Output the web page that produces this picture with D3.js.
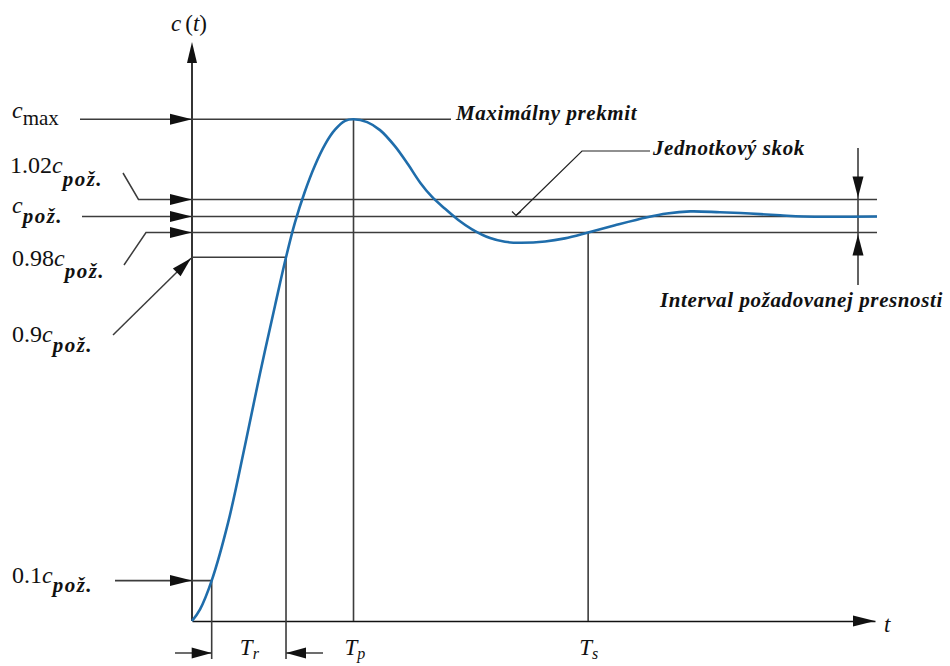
<!DOCTYPE html>
<html>
<head>
<meta charset="utf-8">
<script src="https://cdn.jsdelivr.net/npm/d3@7"></script>
<style>
  body { margin: 0; background: #fff; }
</style>
</head>
<body>
<script>
// Step response c(t) of an under-damped system
const timeS = [0, 0.2, 0.49, 0.9, 1.32, 1.69, 2.07, 2.34,
  2.56, 2.81, 3.06, 3.31, 3.56, 3.81, 4.02,
  4.36, 4.68, 5.05, 5.38, 5.68, 5.97, 6.3, 6.62, 6.97, 7.42, 7.79, 8.16,
  8.79, 9.28, 9.86,
  10.53, 11.33, 11.82, 12.4, 13.14, 13.89, 14.64, 15.21, 17.05];
const response = [0, 0.029, 0.1, 0.244, 0.435, 0.611, 0.782, 0.9,
  0.992, 1.04, 1.105, 1.157, 1.194, 1.216, 1.22,
  1.213, 1.193, 1.153, 1.107, 1.062, 1.027, 1.009, 0.996, 0.984, 0.962, 0.95, 0.947,
  0.951, 0.961, 0.98,
  0.989, 0.999, 1.0035, 1.006, 1.005, 1.0035, 1.0014, 1.0, 1.0];

// Characteristic levels (multiples of the required value c_pož.)
const cMax = 1.22;
const tolUpper = 1.02;
const setpoint = 1.0;
const tolLower = 0.98;
const rise90 = 0.9;
const rise10 = 0.1;

// Characteristic times: 10 % crossing, 90 % crossing (T_r), peak (T_p), settling (T_s)
const markTimes = [0.49, 2.34, 4.02, 9.86];
const markSubs = ["r", "p", "s"];

const notes = ["Maximálny prekmit", "Jednotkový skok", "Interval požadovanej presnosti"];

const SERIF = "'Liberation Serif', Tinos, 'Times New Roman', 'DejaVu Serif', 'Noto Serif', serif";

const W = 950, H = 666;
const svg = d3.select("body").append("svg").attr("width", W).attr("height", H)
  .style("font-family", SERIF);

const x = d3.scaleLinear().domain([0, 17]).range([192, 875]);
// schematic value scale: the ±2 % band around the set point is drawn magnified
const y = d3.scaleLinear()
  .domain([0, rise90, tolLower, setpoint, tolUpper, cMax])
  .range([621, 257.3, 232.5, 216.5, 199.5, 119.3]);

const ink = "#111", grey = "#3c3c3c";

function seg(x1, y1, x2, y2, w = 1.6, c = grey) {
  svg.append("line").attr("x1", x1).attr("y1", y1).attr("x2", x2).attr("y2", y2)
    .attr("stroke", c).attr("stroke-width", w);
}
function poly(pts, w = 1.5, c = grey) {
  svg.append("path").attr("d", d3.line()(pts)).attr("fill", "none")
    .attr("stroke", c).attr("stroke-width", w);
}
// solid arrow head with its tip at (xt, yt), pointing away from (xf, yf)
function head(xt, yt, xf, yf, len = 22, hw = 5.5) {
  const a = Math.atan2(yt - yf, xt - xf);
  const bx = xt - len * Math.cos(a), by = yt - len * Math.sin(a);
  const px = -Math.sin(a) * hw, py = Math.cos(a) * hw;
  svg.append("path")
    .attr("d", `M${xt},${yt}L${bx + px},${by + py}L${bx - px},${by - py}Z`)
    .attr("fill", ink);
}
function txt(xp, yp, size) {
  return svg.append("text").attr("x", xp).attr("y", yp)
    .style("font-family", SERIF).style("font-size", size + "px").attr("fill", "#111");
}

const x0 = x(0), y0 = y(0);

// axes
svg.append("g").attr("transform", `translate(0,${y0})`)
  .call(d3.axisBottom(x).tickValues([]).tickSizeOuter(0))
  .call(g => g.select(".domain").attr("stroke", ink).attr("stroke-width", 1.7));
head(x(17), y0, x(16), y0, 22, 5.5);
seg(x0, y0, x0, 60, 1.7, ink);
head(x0, 42, x0, 100, 21, 5);

// level lines
const xEndBand = 877;
seg(80, y(cMax), 451, y(cMax));
head(x0, y(cMax), 80, y(cMax));

seg(x0, y(tolUpper), xEndBand, y(tolUpper));
poly([[123, 173], [138.5, y(tolUpper)], [x0, y(tolUpper)]]);
head(x0, y(tolUpper), 138, y(tolUpper));

seg(82, y(setpoint), xEndBand, y(setpoint));
head(x0, y(setpoint), 82, y(setpoint));

seg(x0, y(tolLower), xEndBand, y(tolLower));
poly([[124, 265], [146, y(tolLower)], [x0, y(tolLower)]]);
head(x0, y(tolLower), 146, y(tolLower));

seg(x0, y(rise90), x(markTimes[1]), y(rise90));
seg(113, 335, x0 - 1, y(rise90) + 1, 1.5);
head(x0 - 1, y(rise90) + 1, 113, 335, 20, 5.5);

seg(115, y(rise10), x(markTimes[0]), y(rise10));
head(x0, y(rise10), 115, y(rise10));

// vertical markers
seg(x(markTimes[0]), y(rise10), x(markTimes[0]), 659);
seg(x(markTimes[1]), y(rise90), x(markTimes[1]), 659);
seg(x(markTimes[2]), y(cMax), x(markTimes[2]), y0);
seg(x(markTimes[3]), y(tolLower), x(markTimes[3]), y0);

// rise-time arrows below the axis
seg(175, 653, x(markTimes[0]), 653);
head(x(markTimes[0]), 653, 175, 653, 20, 5.5);
seg(323, 653, x(markTimes[1]), 653);
head(x(markTimes[1]), 653, 323, 653, 20, 5.5);

// tolerance band marker on the right
const xb = 858;
seg(xb, 148, xb, 285);
head(xb, y(tolUpper) - 2, xb, 150, 21, 5.5);
head(xb, y(tolLower) + 2, xb, 285, 21, 5.5);

// leader to the unit step line
poly([[650, 151], [582, 151], [516, y(setpoint) - 1]], 1.2, "#222");
poly([[512, y(setpoint) - 5], [516, y(setpoint) - 1], [521, y(setpoint) - 5]], 1.2, "#222");

// response curve
const pts = timeS.map((t, i) => [t, response[i]]);
svg.append("path")
  .attr("d", d3.line().x(d => x(d[0])).y(d => y(d[1])).curve(d3.curveCatmullRom.alpha(0.5))(pts))
  .attr("fill", "none").attr("stroke", "#1f6dab").attr("stroke-width", 2.6);

// axis labels
const ct = txt(171, 31, 23).style("font-style", "italic");
ct.append("tspan").text("c");
ct.append("tspan").attr("dx", 4).style("font-style", "normal").text("(");
ct.append("tspan").text("t");
ct.append("tspan").style("font-style", "normal").text(")");
txt(884, 632, 23).style("font-style", "italic").text("t");

// level labels
function levelLabel(xp, yb, coef, sub, subDy, subBold = true) {
  const t = txt(xp, yb, 24);
  if (coef) t.append("tspan").text(coef);
  t.append("tspan").style("font-style", "italic").text("c");
  const s = t.append("tspan").attr("dy", subDy).style("font-size", "21px");
  if (subBold) s.style("font-style", "italic").style("font-weight", "bold").style("letter-spacing", "1.5px");
  s.text(sub);
}
levelLabel(12, 118, "", "max", 7, false);
levelLabel(10, 173, "1.02", "pož.", 13);
levelLabel(12, 213, "", "pož.", 10);
levelLabel(12, 266, "0.98", "pož.", 12);
levelLabel(12, 342, "0.9", "pož.", 10);
levelLabel(12, 583, "0.1", "pož.", 9);

// time labels
[markTimes.slice(0, 2).reduce((a, b) => a + b) / 2, markTimes[2], markTimes[3]].forEach((t, i) => {
  const lb = txt(x(t) - 9, 655, 23).style("font-style", "italic");
  lb.append("tspan").text("T");
  lb.append("tspan").attr("dy", 4).style("font-size", "16px").text(markSubs[i]);
});

// annotations
const noteStyle = s => s.style("font-style", "italic").style("font-weight", "bold")
  .style("letter-spacing", "0.6px");
txt(456, 120, 21).call(noteStyle).text(notes[0]);
txt(653, 155, 21).call(noteStyle).text(notes[1]);
txt(660, 307, 21).call(noteStyle).text(notes[2]);
</script>
</body>
</html>
